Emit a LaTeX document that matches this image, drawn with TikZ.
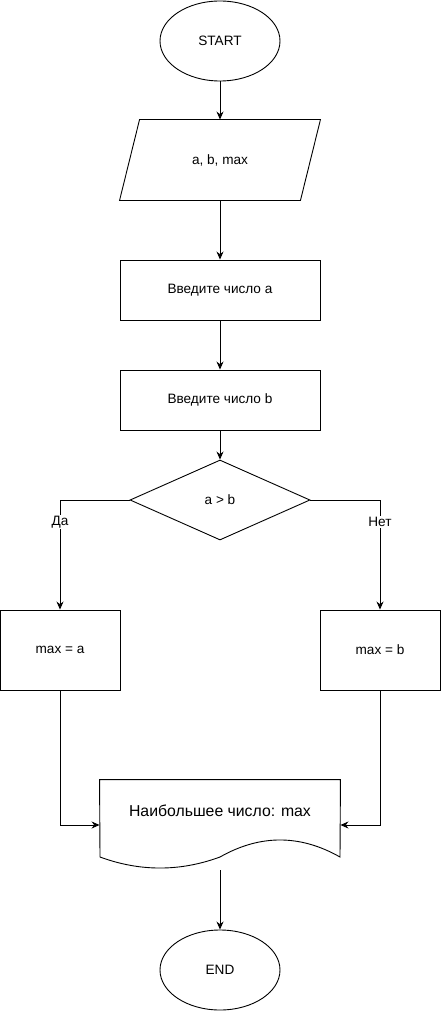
\documentclass[tikz,border=0pt]{standalone}
\usepackage{fontspec}
\setmainfont{Liberation Sans}
\usetikzlibrary{shapes.geometric,arrows.meta}

\begin{document}
\begin{tikzpicture}[x=1pt,y=-1pt,line width=0.9pt,
        every node/.style={font=\fontsize{13.6}{16}\selectfont},
        term/.style={draw,ellipse,minimum width=120pt,minimum height=80pt,inner sep=0pt},
        io/.style={rectangle,minimum width=200pt,minimum height=80pt,inner sep=0pt},
        box/.style={draw,rectangle,minimum width=200pt,minimum height=60pt,inner sep=0pt},
        smallbox/.style={draw,rectangle,minimum width=120pt,minimum height=80pt,inner sep=0pt},
        cond/.style={draw,diamond,aspect=2.25,minimum width=180pt,minimum height=80pt,inner sep=0pt},
        arr/.style={-{Stealth[length=8pt,width=7pt]}},
        branch/.style={fill=white,inner sep=1pt}]
    \useasboundingbox (0,0) rectangle (442,1011);
    % blocks
    \node[term] (start) at (220,41) {START};
    \node[io] (input) at (220,160) {a, b, max};
    \draw ([xshift=20pt]input.north west) -- (input.north east)
        -- ([xshift=-20pt]input.south east) -- (input.south west) -- cycle;
    \node[box] (readA) at (220,290) {Введите число a};
    \node[box] (readB) at (220,400) {Введите число b};
    \node[cond] (cmp) at (220,500) {a > b};
    \node[smallbox] (maxA) at (60,650) {max = a};
    \node[smallbox] (maxB) at (380,650) {max = b};
    \node[minimum width=240pt,minimum height=90pt,inner sep=0pt] (doc) at (220,825) {};
    \draw (doc.north west) -- (doc.north east) -- (340,857)
        .. controls (300,834.3) and (260,834.3) .. (220,857)
        .. controls (180,871.7) and (140,871.7) .. (100,857) -- cycle;
    \node[font=\fontsize{15.8}{18}\selectfont] (docText) at (220,811) {Наибольшее число: max};
    \node[term] (stop) at (220,970) {END};
    % connectors
    \draw[arr] (start) -- (input);
    \draw[arr] (input) -- (readA);
    \draw[arr] (readA) -- (readB);
    \draw[arr] (readB) -- (cmp);
    \draw[arr] (cmp.west) -| node[branch,pos=0.6] {Да} (maxA.north);
    \draw[arr] (cmp.east) -| node[branch,pos=0.6] {Нет} (maxB.north);
    \draw[arr] (maxA.south) |- (doc.west);
    \draw[arr] (maxB.south) |- (doc.east);
    \draw[arr] (doc.south) -- (stop.north);
\end{tikzpicture}
\end{document}
